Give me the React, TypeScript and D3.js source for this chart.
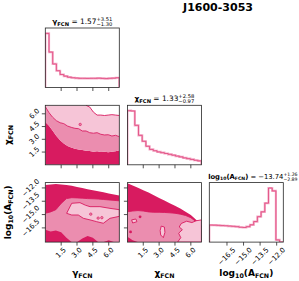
import React from "react";
import * as d3 from "d3";

// ---------------- data ----------------
const gammaRange = [0, 7];
const chiRange = [0, 7];
const logARange = [-18.1, -11.4];

const gammaTicks = [1.5, 3, 4.5, 6];
const gammaTickLabels = ["1.5", "3.0", "4.5", "6.0"];
const chiTicks = [1.5, 3, 4.5, 6];
const chiTickLabels = ["1.5", "3.0", "4.5", "6.0"];
const logATicks = [-16.5, -15, -13.5, -12];
const logATickLabels = ["−16.5", "−15.0", "−13.5", "−12.0"];

// 1D marginal histograms (20 bins, relative heights)
const gammaHist = [1.0, 0.655, 0.435, 0.31, 0.24, 0.21, 0.19, 0.18, 0.175, 0.17, 0.17, 0.168, 0.17, 0.17, 0.172, 0.168, 0.165, 0.17, 0.172, 0.18];
const chiHist = [1.0, 0.995, 0.73, 0.545, 0.435, 0.343, 0.284, 0.26, 0.238, 0.224, 0.209, 0.194, 0.178, 0.161, 0.147, 0.128, 0.114, 0.099, 0.084, 0.073];
const logAHist = [0.315, 0.313, 0.31, 0.306, 0.302, 0.297, 0.292, 0.285, 0.275, 0.27, 0.285, 0.32, 0.38, 0.47, 0.56, 0.72, 1.0, 0.946, 0.04, 0];

// 2D: gamma vs chi — contour level boundaries (chi) at gamma samples
const gcGamma = [0, 0.35, 0.7, 1.05, 1.4, 1.75, 2.1, 2.45, 2.8, 3.15, 3.5, 3.85, 4.2, 4.55, 4.9, 5.25, 5.6, 5.95, 6.3, 6.65, 7];
const gcDarkEdge = [5.05, 4.6, 4.0, 3.4, 2.9, 2.5, 2.2, 2.05, 1.9, 1.8, 1.75, 1.65, 1.62, 1.55, 1.6, 1.5, 1.55, 1.48, 1.55, 1.6, 1.7];
const gcMidEdge = [6.84, 6.13, 5.59, 5.19, 4.95, 4.84, 4.56, 4.41, 4.29, 4.25, 3.98, 3.98, 3.78, 3.71, 3.78, 3.59, 3.51, 3.54, 3.39, 3.47, 3.31];
const gcLightEdge = [7, 7, 7, 7, 7, 7, 7, 7, 7, 7, 7, 7, 6.8, 6.2, 5.85, 5.85, 5.8, 5.85, 5.9, 5.85, 5.8];
const gcDots = [[3.3, 4.75]];

// 2D: gamma vs log10 A
const gaGamma = [0, 0.5, 1, 1.5, 2, 2.5, 3, 3.5, 4, 4.5, 5, 5.5, 6, 6.5, 7];
const gaTopEdge = [-11.66, -11.6, -11.57, -11.6, -11.66, -11.76, -11.9, -12.02, -12.14, -12.25, -12.38, -12.5, -12.62, -12.74, -12.85];
const gaMidTop = [-14.85, -14.7, -14.45, -13.75, -13.2, -13.1, -13.12, -13.15, -13.2, -13.22, -13.25, -13.3, -13.35, -13.4, -13.45];
const gaMidBottom = [-16.7, -16.9, -16.8, -17.0, -17.6, -18.1, -18.1, -17.7, -17.4, -17.6, -18.1, -18.1, -17.9, -18.1, -18.1];
const gaLightIsland = [[2.02, -14.86], [2.5, -13.73], [3.28, -13.66], [3.8, -13.95], [4.23, -14.11], [5.17, -14.11], [6.12, -14.3], [7, -14.45], [7, -15.2], [6.12, -15.42], [5.49, -15.98], [4.86, -15.8], [4.23, -15.6], [3.6, -15.42], [3.12, -15.05], [2.5, -15.05]];
const gaDots = [[4.3, -14.95], [5.0, -15.4], [5.35, -15.35]];

// 2D: chi vs log10 A
const caChi = [0, 0.5, 1, 1.5, 2, 2.5, 3, 3.5, 4, 4.5, 5, 5.5, 6, 6.5, 7];
const caTopEdge = [-11.47, -11.73, -11.99, -12.25, -12.52, -12.82, -13.12, -13.42, -13.72, -14.01, -14.31, -14.68, -15.06, -15.57, -16.18];
const caMidTop = [-14.68, -14.6, -14.55, -14.6, -14.7, -14.74, -14.74, -14.76, -14.8, -14.85, -14.95, -15.1, -15.35, -15.8, -16.4];
const caMidBottom = [-17.5, -17.9, -18.1, -18.1, -18.1, -18.1, -18.1, -18.1, -18.1, -18.1, -18.1, -18.1, -18.1, -18.1, -18.1];
const caLightA = [[7, -15.6], [6.5, -15.7], [6.1, -15.9], [5.6, -15.75], [5.1, -16.0], [4.9, -16.4], [5.2, -16.7], [4.85, -17.1], [5.05, -17.6], [4.75, -18.1], [7, -18.1]];
const caLightB = [[3.2, -16.3], [3.5, -16.4], [3.55, -17.0], [3.4, -17.6], [3.15, -17.3], [3.1, -16.8]];
const caLightC = [[0.4, -15.6], [0.8, -15.5], [0.9, -15.8], [0.5, -15.95]];
const caDarkDots = [[1.2, -15.25], [0.3, -16.95]];

// ---------------- layout ----------------
const W = 299, H = 281;
const PW = 74, PH = 59.5;
const COLX = [45.3, 127.4, 209.3];
const ROWY = [28, 105.3, 182.6];
const FONT = "'DejaVu Sans', sans-serif";
const DARK = "#d81b60";
const MID = "#eb8daf";
const LIGHT = "#f6c5d7";
const HIST_LIGHT = "#f4a9c6";
const HIST_DARK = "#e0457b";
const FRAME = "#262626";
const TICK_FS = 7;

function textW(s: string, fs: number) {
  let w = 0;
  for (const c of s) w += c === "." ? 0.318 : c === "−" || c === "+" ? 0.838 : 0.636;
  return w * fs;
}

function XTicks({ scale, ticks, labels, y, showLabels }: any) {
  return (
    <g>
      {ticks.map((t: number, i: number) => {
        const x = scale(t);
        const out = [<line key={"l" + i} x1={x} x2={x} y1={y} y2={y + 3.5} stroke={FRAME} strokeWidth={0.8} />];
        if (showLabels) {
          const L = textW(labels[i], TICK_FS);
          const bh = (L + 0.73 * TICK_FS) / Math.SQRT2;
          const cy = y + 3.5 + 1.5 + bh / 2;
          out.push(
            <text key={"t" + i} x={x} y={cy} transform={`rotate(-45 ${x} ${cy})`} textAnchor="middle" dominantBaseline="central" fontSize={TICK_FS} fontFamily={FONT} fill="#000">
              {labels[i]}
            </text>
          );
        }
        return out;
      })}
    </g>
  );
}

function YTicks({ scale, ticks, labels, x, showLabels }: any) {
  return (
    <g>
      {ticks.map((t: number, i: number) => {
        const y = scale(t);
        const out = [<line key={"l" + i} x1={x - 3.5} x2={x} y1={y} y2={y} stroke={FRAME} strokeWidth={0.8} />];
        if (showLabels) {
          const L = textW(labels[i], TICK_FS);
          const bw = (L + 0.73 * TICK_FS) / Math.SQRT2;
          const cx = x - 3.5 - 1.5 - bw / 2;
          out.push(
            <text key={"t" + i} x={cx} y={y} transform={`rotate(-45 ${cx} ${y})`} textAnchor="middle" dominantBaseline="central" fontSize={TICK_FS} fontFamily={FONT} fill="#000">
              {labels[i]}
            </text>
          );
        }
        return out;
      })}
    </g>
  );
}

function Hist({ x0, y0, domain, values }: any) {
  const n = values.length;
  const x = d3.scaleLinear().domain(domain).range([x0, x0 + PW]);
  const y = d3.scaleLinear().domain([0, (d3.max(values) as number) * 1.1]).range([y0 + PH, y0]);
  const edges = d3.range(n + 1).map((i) => domain[0] + (i * (domain[1] - domain[0])) / n);
  const pts: [number, number][] = [[edges[0], 0]];
  values.forEach((v: number, i: number) => pts.push([edges[i], v]));
  pts.push([edges[n], values[n - 1]]);
  pts.push([edges[n], 0]);
  const path = d3.line().x((d) => x(d[0])).y((d) => y(d[1])).curve(d3.curveStepAfter)(pts) as string;
  const id = `clip-h-${x0}-${y0}`.replace(/\./g, "_");
  return (
    <g>
      <clipPath id={id}>
        <rect x={x0} y={y0} width={PW} height={PH} />
      </clipPath>
      <g clipPath={`url(#${id})`}>
        <path d={path} fill="none" stroke={HIST_LIGHT} strokeWidth={2.2} />
        <path d={path} fill="none" stroke={HIST_DARK} strokeWidth={0.8} />
      </g>
    </g>
  );
}

function band(xsArr: number[], lo: number[], hi: number[], xs: any, ys: any) {
  return d3
    .area<number>()
    .x((_, i) => xs(xsArr[i]))
    .y0((_, i) => ys(lo[i]))
    .y1((_, i) => ys(hi[i]))(xsArr) as string;
}
function edge(xsArr: number[], v: number[], xs: any, ys: any) {
  return d3
    .line<number>()
    .x((_, i) => xs(xsArr[i]))
    .y((_, i) => ys(v[i]))(xsArr) as string;
}
function poly(pts: number[][], xs: any, ys: any) {
  return d3
    .line<number[]>()
    .x((d) => xs(d[0]))
    .y((d) => ys(d[1]))
    .curve(d3.curveLinearClosed)(pts) as string;
}

function Label({ x, y, main, sub, fs, rotate }: any) {
  const sfs = fs * 0.7;
  return (
    <text x={x} y={y} textAnchor="middle" fontSize={fs} fontFamily={FONT} fontWeight="bold" transform={rotate ? `rotate(-90 ${x} ${y})` : undefined}>
      {main}
      <tspan fontSize={sfs} dy={fs * 0.22}>{sub}</tspan>
    </text>
  );
}

function LogLabel({ x, y, fs, rotate }: any) {
  const sfs = fs * 0.7;
  const d = fs * 0.22;
  return (
    <text x={x} y={y} textAnchor="middle" fontSize={fs} fontFamily={FONT} fontWeight="bold" transform={rotate ? `rotate(-90 ${x} ${y})` : undefined}>
      log
      <tspan fontSize={sfs} dy={d}>10</tspan>
      <tspan dy={-d}>(A</tspan>
      <tspan fontSize={sfs} dy={d}>FCN</tspan>
      <tspan dy={-d}>)</tspan>
    </text>
  );
}

function Title({ x, y, kind, value, plus, minus, anchor, fs = 7.4, sfs = 5.2 }: any) {
  const d = fs * 0.22;
  const head =
    kind === "log" ? (
      <>
        <tspan fontWeight="bold">log</tspan>
        <tspan fontWeight="bold" fontSize={sfs} dy={d}>10</tspan>
        <tspan fontWeight="bold" dy={-d}>(A</tspan>
        <tspan fontWeight="bold" fontSize={sfs} dy={d}>FCN</tspan>
        <tspan fontWeight="bold" dy={-d}>)</tspan>
      </>
    ) : (
      <>
        <tspan fontWeight="bold">{kind}</tspan>
        <tspan fontWeight="bold" fontSize={sfs} dy={d}>FCN</tspan>
        <tspan dy={-d}> </tspan>
      </>
    );
  return (
    <text x={x} y={y} textAnchor={anchor || "middle"} fontSize={fs} fontFamily={FONT} fill="#000">
      {head}
      <tspan>{kind === "log" ? " = " + value : "= " + value}</tspan>
      <tspan fontSize={sfs} dy={-3}>{plus}</tspan>
      <tspan fontSize={sfs} dx={-textW(plus, sfs)} dy={5}>{minus}</tspan>
    </text>
  );
}

export default function App() {
  const xGamma = d3.scaleLinear().domain(gammaRange).range([COLX[0], COLX[0] + PW]);
  const xChi = d3.scaleLinear().domain(chiRange).range([COLX[1], COLX[1] + PW]);
  const xLogA = d3.scaleLinear().domain(logARange).range([COLX[2], COLX[2] + PW]);
  const yChi = d3.scaleLinear().domain(chiRange).range([ROWY[1] + PH, ROWY[1]]);
  const yLogA = d3.scaleLinear().domain(logARange).range([ROWY[2] + PH, ROWY[2]]);

  const gcBottom = gcGamma.map(() => chiRange[0]);
  const gaBottom = gaGamma.map(() => logARange[0]);
  const caBottom = caChi.map(() => logARange[0]);
  const lightStart = gcLightEdge.findIndex((v) => v < chiRange[1]) - 1;

  const clip = (id: string, c: number, r: number) => (
    <clipPath id={id}>
      <rect x={COLX[c]} y={ROWY[r]} width={PW} height={PH} />
    </clipPath>
  );
  const frame = (c: number, r: number) => (
    <rect x={COLX[c]} y={ROWY[r]} width={PW} height={PH} fill="none" stroke={FRAME} strokeWidth={0.8} />
  );

  return (
    <svg width={W} height={H} viewBox={`0 0 ${W} ${H}`} style={{ position: "absolute", left: 0, top: 0, background: "#fff" }} fontFamily={FONT}>
      <rect x={0} y={0} width={W} height={H} fill="#fff" />
      <defs>
        {clip("c10", 0, 1)}
        {clip("c20", 0, 2)}
        {clip("c21", 1, 2)}
      </defs>

      <text x={218} y={10.5} textAnchor="middle" fontSize={11} fontWeight="bold" fontFamily={FONT}>
        J1600-3053
      </text>

      {/* diagonal histograms */}
      <Hist x0={COLX[0]} y0={ROWY[0]} domain={gammaRange} values={gammaHist} />
      <Hist x0={COLX[1]} y0={ROWY[1]} domain={chiRange} values={chiHist} />
      <Hist x0={COLX[2]} y0={ROWY[2]} domain={logARange} values={logAHist} />

      {/* gamma vs chi */}
      <g clipPath="url(#c10)">
        <path d={band(gcGamma, gcBottom, gcDarkEdge, xGamma, yChi)} fill={DARK} />
        <path d={band(gcGamma, gcDarkEdge, gcMidEdge, xGamma, yChi)} fill={MID} />
        <path d={band(gcGamma, gcMidEdge, gcLightEdge, xGamma, yChi)} fill={LIGHT} />
        <path d={edge(gcGamma, gcMidEdge, xGamma, yChi)} fill="none" stroke={DARK} strokeWidth={0.9} />
        <path d={edge(gcGamma.slice(lightStart), gcLightEdge.slice(lightStart), xGamma, yChi)} fill="none" stroke={DARK} strokeWidth={0.9} />
        {gcDots.map((d, i) => (
          <circle key={i} cx={xGamma(d[0])} cy={yChi(d[1])} r={1.2} fill={MID} stroke={DARK} strokeWidth={0.7} />
        ))}
      </g>

      {/* gamma vs log A */}
      <g clipPath="url(#c20)">
        <path d={band(gaGamma, gaBottom, gaTopEdge, xGamma, yLogA)} fill={DARK} />
        <path d={band(gaGamma, gaMidBottom, gaMidTop, xGamma, yLogA)} fill={MID} />
        <path d={edge(gaGamma, gaMidTop, xGamma, yLogA)} fill="none" stroke={DARK} strokeWidth={0.9} />
        <path d={poly(gaLightIsland, xGamma, yLogA)} fill={LIGHT} stroke={DARK} strokeWidth={0.9} />
        {gaDots.map((d, i) => (
          <circle key={i} cx={xGamma(d[0])} cy={yLogA(d[1])} r={1.2} fill={MID} stroke={DARK} strokeWidth={0.7} />
        ))}
      </g>

      {/* chi vs log A */}
      <g clipPath="url(#c21)">
        <path d={band(caChi, caBottom, caTopEdge, xChi, yLogA)} fill={DARK} />
        <path d={band(caChi, caMidBottom, caMidTop, xChi, yLogA)} fill={MID} />
        <path d={edge(caChi, caMidTop, xChi, yLogA)} fill="none" stroke={DARK} strokeWidth={0.9} />
        {[caLightA, caLightB, caLightC].map((p, i) => (
          <path key={i} d={poly(p, xChi, yLogA)} fill={LIGHT} stroke={DARK} strokeWidth={0.9} />
        ))}
        {caDarkDots.map((d, i) => (
          <circle key={i} cx={xChi(d[0])} cy={yLogA(d[1])} r={1.4} fill={DARK} />
        ))}
      </g>

      {/* frames */}
      {frame(0, 0)}
      {frame(0, 1)}
      {frame(1, 1)}
      {frame(0, 2)}
      {frame(1, 2)}
      {frame(2, 2)}

      {/* ticks */}
      <XTicks scale={xGamma} ticks={gammaTicks} labels={gammaTickLabels} y={ROWY[0] + PH} showLabels={false} />
      <XTicks scale={xGamma} ticks={gammaTicks} labels={gammaTickLabels} y={ROWY[1] + PH} showLabels={false} />
      <XTicks scale={xChi} ticks={chiTicks} labels={chiTickLabels} y={ROWY[1] + PH} showLabels={false} />
      <XTicks scale={xGamma} ticks={gammaTicks} labels={gammaTickLabels} y={ROWY[2] + PH} showLabels={true} />
      <XTicks scale={xChi} ticks={chiTicks} labels={chiTickLabels} y={ROWY[2] + PH} showLabels={true} />
      <XTicks scale={xLogA} ticks={logATicks} labels={logATickLabels} y={ROWY[2] + PH} showLabels={true} />
      <YTicks scale={yChi} ticks={chiTicks} labels={chiTickLabels} x={COLX[0]} showLabels={true} />
      <YTicks scale={yLogA} ticks={logATicks} labels={logATickLabels} x={COLX[0]} showLabels={true} />
      <YTicks scale={yLogA} ticks={logATicks} labels={logATickLabels} x={COLX[1]} showLabels={false} />

      {/* titles */}
      <Title x={COLX[0] + PW / 2} y={ROWY[0] - 4} kind="γ" value="1.57" plus="+3.51" minus="−1.30" />
      <Title x={COLX[1] + PW / 2} y={ROWY[1] - 4} kind="χ" value="1.33" plus="+2.58" minus="−0.97" />
      <Title x={297.5} y={ROWY[2] - 4} kind="log" value="−13.74" plus="+1.26" minus="−2.89" anchor="end" fs={6.8} sfs={4.6} />

      {/* axis labels */}
      <Label x={COLX[0] + PW / 2} y={276} main="γ" sub="FCN" fs={9} />
      <Label x={COLX[1] + PW / 2} y={276} main="χ" sub="FCN" fs={9} />
      <LogLabel x={COLX[2] + PW / 2} y={276} fs={9} />
      <Label x={11} y={ROWY[1] + PH / 2} main="χ" sub="FCN" fs={9} rotate />
      <LogLabel x={11} y={ROWY[2] + PH / 2} fs={9} rotate />
    </svg>
  );
}
